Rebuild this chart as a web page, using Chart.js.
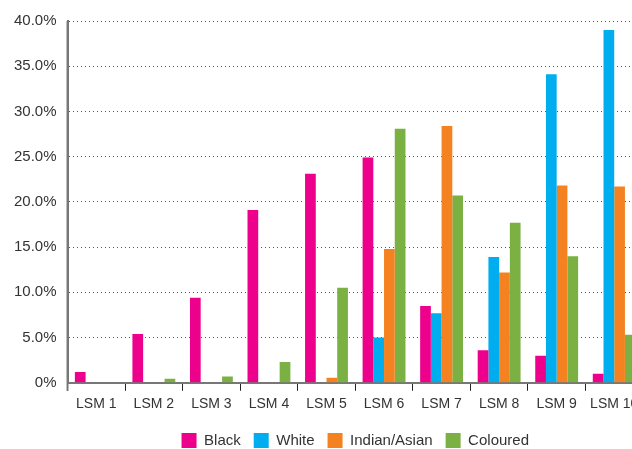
<!DOCTYPE html>
<html>
<head>
<meta charset="utf-8">
<script src="https://cdn.jsdelivr.net/npm/chart.js@4"></script>
<style>
  html, body { margin: 0; padding: 0; background: #fff; overflow: hidden; }
  #wrap { width: 646px; height: 458px; }
</style>
</head>
<body>
<div id="wrap"><canvas id="lsmChart"></canvas></div>
<script>
// LSM categories and race group shares (percent)
const categories = ['LSM 1', 'LSM 2', 'LSM 3', 'LSM 4', 'LSM 5', 'LSM 6', 'LSM 7', 'LSM 8', 'LSM 9', 'LSM 10'];
const black    = [1.2, 5.4, 9.4, 19.1, 23.1, 24.9, 8.5, 3.6, 3.0, 1.0];
const white    = [0, 0, 0, 0, 0, 5.0, 7.7, 13.9, 34.1, 39.0];
const indian   = [0, 0, 0, 0, 0.55, 14.8, 28.4, 12.2, 21.8, 21.7];
const coloured = [0, 0.45, 0.7, 2.3, 10.5, 28.1, 20.7, 17.7, 14.0, 5.3];
const yTicks = [0, 5, 10, 15, 20, 25, 30, 35, 40];

const fontFamily = '"Liberation Sans", Arial, sans-serif';

document.addEventListener('DOMContentLoaded', function () {
    const el = document.getElementById('lsmChart');
    const bar = (label, data, color) => ({
        label: label,
        data: data,
        backgroundColor: color,
        borderWidth: 0,
        categoryPercentage: 0.745,
        barPercentage: 1.0
    });

    new Chart(el, {
        type: 'bar',
        data: {
            labels: categories,
            datasets: [
                bar('Black', black, '#ec008c'),
                bar('White', white, '#00aeef'),
                bar('Indian/Asian', indian, '#f58220'),
                bar('Coloured', coloured, '#7ab142')
            ]
        },
        options: {
            responsive: true,
            maintainAspectRatio: false,
            animation: false,
            layout: { padding: { top: 21, right: 3, left: 3, bottom: 0 } },
            plugins: {
                tooltip: { enabled: false },
                legend: {
                    position: 'bottom',
                    fullSize: false,
                    // empty title only used as spacer above the legend items
                    title: { display: true, text: '', font: { size: 1 }, padding: 0.6 },
                    labels: {
                        boxWidth: 15,
                        boxHeight: 15,
                        padding: 13,
                        color: '#333',
                        font: { family: fontFamily, size: 15 }
                    }
                }
            },
            scales: {
                x: {
                    offset: true,
                    grid: {
                        offset: true,
                        drawOnChartArea: false,
                        drawTicks: true,
                        tickLength: 8,
                        color: '#222',
                        lineWidth: 1
                    },
                    border: { display: true, color: '#777', width: 2 },
                    ticks: {
                        color: '#333',
                        padding: 5,
                        maxRotation: 0,
                        autoSkip: false,
                        font: { family: fontFamily, size: 14 }
                    }
                },
                y: {
                    min: 0,
                    max: 40,
                    afterBuildTicks: (axis) => { axis.ticks = yTicks.map(v => ({ value: v })); },
                    grid: {
                        color: (ctx) => ctx.tick && ctx.tick.value === 0 ? 'rgba(0,0,0,0)' : '#555',
                        lineWidth: 1,
                        drawTicks: false
                    },
                    // in v4 border.dash styles the grid lines
                    border: { display: true, color: '#777', width: 2, dash: [1, 3] },
                    ticks: {
                        color: '#333',
                        padding: 11,
                        font: { family: fontFamily, size: 15 },
                        callback: (v) => v === 0 ? '0%' : v.toFixed(1) + '%'
                    }
                }
            }
        },
        plugins: [{
            id: 'solidYAxis',
            // dotted gridlines but a solid left axis line
            beforeDatasetsDraw(chart) {
                const { ctx, chartArea } = chart;
                ctx.save();
                ctx.strokeStyle = '#777';
                ctx.lineWidth = 2;
                ctx.beginPath();
                ctx.moveTo(chartArea.left, chartArea.top);
                ctx.lineTo(chartArea.left, chartArea.bottom + 8);
                ctx.stroke();
                ctx.restore();
            }
        }]
    });
});
</script>
</body>
</html>
